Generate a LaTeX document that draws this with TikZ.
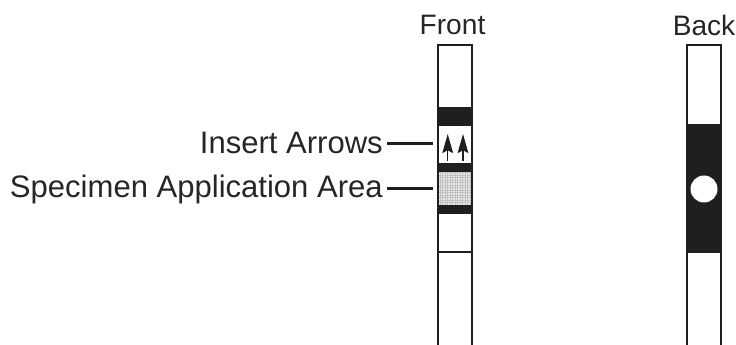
\documentclass[tikz,border=0pt]{standalone}
\usepackage{fontspec}
\setmainfont{Liberation Sans}
\usetikzlibrary{arrows.meta}
\tikzset{
    striptext/.style={font=\fontsize{26.5}{30}\selectfont, text=black!85, inner sep=0pt},
    sidetext/.style={font=\fontsize{24}{28}\selectfont, text=black!85, inner sep=0pt},
    stripline/.style={draw=black!88, line width=0.08cm},
    band/.style={fill=black!88, draw=none},
    leader/.style={draw=black!88, line width=0.07cm},
    insertarrow/.style={draw=black!88, line width=0.045cm, -{Stealth[length=0.57cm, width=0.32cm, inset=0.08cm]}}
}
\begin{document}
\begin{tikzpicture}[x=0.03cm, y=-0.03cm]
\useasboundingbox (0,0) rectangle (736,345);

% front
\node[sidetext] (frontLabel) at (452.5,25) {Front};
\fill[band] (438,107) rectangle (472,126);
\fill[band] (438,163) rectangle (472,172);
\fill[black!8] (438,172) rectangle (472,205);
\draw[black!24, line width=0.02cm, step=0.075cm] (438,172) grid (472,205);
\fill[band] (438,205) rectangle (472,214);
\draw[stripline] (438,345) -- (438,45) -- (472,45) -- (472,345);
\draw[stripline] (438,252) -- (472,252);
\draw[insertarrow] (447.7,161) -- (447.7,134);
\draw[insertarrow] (463,161) -- (463,134);

% back
\node[sidetext] (backLabel) at (704,25) {Back};
\fill[band] (687,124) rectangle (721,253);
\fill[white] (704,189) circle (13.5);
\draw[stripline] (687,345) -- (687,45) -- (721,45) -- (721,345);

% labels
\coordinate (insertEnd) at (433,143.5);
\coordinate (specimenEnd) at (433,188.5);
\node[striptext, anchor=east] (insertLabel) at (383,143) {Insert Arrows};
\node[striptext, anchor=east] (specimenLabel) at (383,189) {Specimen Application Area};
\draw[leader] (insertLabel.east |- insertEnd) ++(4,0) -- (insertEnd);
\draw[leader] (specimenLabel.east |- specimenEnd) ++(4,0) -- (specimenEnd);
\end{tikzpicture}
\end{document}
